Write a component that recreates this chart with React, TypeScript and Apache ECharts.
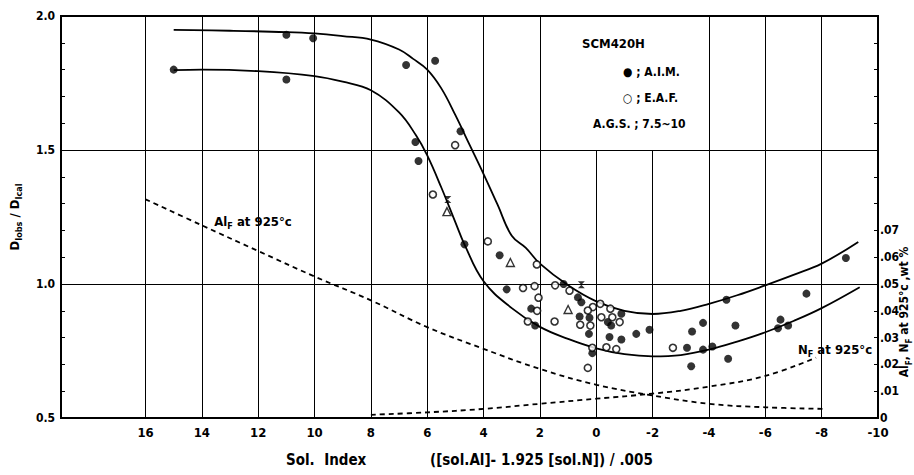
import React, { useEffect, useRef } from 'react';
import * as echarts from 'echarts';

// ---- data ----
const xGridValues = [16, 14, 12, 10, 8, 6, 4, 2, 0, -2, -4, -6, -8];
const legendBoxX = [2, -4];
const legendBoxY = [1.5, 2.0];

const upperCurve: number[][] = [
  [15, 1.948], [13, 1.945], [11, 1.94], [10, 1.935], [9, 1.925], [8, 1.912],
  [7, 1.875], [6.5, 1.84], [6, 1.8], [5.5, 1.73], [5, 1.63], [4.5, 1.52],
  [4, 1.41], [3.5, 1.295], [3, 1.18], [2.5, 1.135], [2, 1.076], [1, 0.995],
  [0, 0.935], [-1, 0.9], [-2, 0.888], [-3, 0.9], [-4, 0.926], [-5, 0.958],
  [-6, 0.995], [-7, 1.034], [-8, 1.076], [-9.3, 1.157],
];

const lowerCurve: number[][] = [
  [15, 1.798], [14, 1.8], [12, 1.794], [10, 1.776], [9, 1.755], [8, 1.723],
  [7, 1.64], [6.4, 1.555], [6, 1.48], [5.5, 1.36], [5, 1.23], [4.68, 1.148],
  [4, 1.01], [3, 0.91], [2, 0.84], [1, 0.795], [0, 0.76], [-1, 0.738],
  [-2, 0.73], [-3, 0.735], [-4, 0.755], [-5, 0.785], [-6, 0.82], [-7, 0.862],
  [-8, 0.91], [-9.35, 0.988],
];

// right axis units (wt %)
const alFCurve: number[][] = [
  [16, 0.0816], [14, 0.0719], [12, 0.0623], [10, 0.0528], [8, 0.0439],
  [6, 0.0339], [4, 0.0258], [2, 0.0183], [0, 0.0124], [-2, 0.0084],
  [-4, 0.0053], [-6, 0.004], [-8.1, 0.0034],
];

const nFCurve: number[][] = [
  [8, 0.0012], [6, 0.0021], [4, 0.0034], [2, 0.0053], [0, 0.0072],
  [-2, 0.0091], [-4, 0.0117], [-6, 0.0157], [-7.8, 0.0225],
];

const aimPoints: number[][] = [
  [15, 1.8], [11, 1.93], [11, 1.763], [10.05, 1.917], [6.75, 1.817], [5.72, 1.833],
  [4.82, 1.57], [6.42, 1.53], [6.31, 1.459], [4.68, 1.148], [3.43, 1.107], [3.18, 0.98],
  [1.16, 1.0], [2.31, 0.908], [2.17, 0.845], [0.65, 0.95], [0.53, 0.932], [0.59, 0.879],
  [0.24, 0.874], [-0.89, 0.889], [-0.41, 0.858], [-0.53, 0.845], [0.26, 0.814],
  [-0.47, 0.802], [-0.89, 0.793], [-1.42, 0.814], [-1.89, 0.829], [0.14, 0.742],
  [-4.62, 0.941], [-3.79, 0.855], [-3.4, 0.823], [-4.94, 0.845], [-3.22, 0.762],
  [-3.79, 0.755], [-4.12, 0.767], [-3.37, 0.693], [-4.68, 0.721], [-8.86, 1.097],
  [-7.46, 0.964], [-6.54, 0.867], [-6.45, 0.835], [-6.81, 0.845],
];

const eafPoints: number[][] = [
  [5.01, 1.518], [5.8, 1.334], [3.85, 1.159], [2.11, 1.073], [2.6, 0.985], [2.19, 0.992],
  [2.05, 0.949], [2.1, 0.9], [2.43, 0.86], [1.48, 0.86], [1.46, 0.995], [0.95, 0.975],
  [0.12, 0.914], [-0.14, 0.926], [0.3, 0.901], [-0.18, 0.876], [-0.5, 0.908],
  [-0.57, 0.876], [-0.83, 0.858], [0.57, 0.848], [0.21, 0.845], [0.14, 0.762],
  [-0.36, 0.764], [-0.71, 0.757], [0.3, 0.687], [-2.72, 0.762],
];

const trianglePoints: number[][] = [[5.3, 1.27], [3.05, 1.08], [1.0, 0.905]];
const crossPoints: number[][] = [[5.27, 1.315], [0.53, 0.997]];

const FONT = "'DejaVu Sans Condensed', 'Liberation Sans Narrow', 'Liberation Sans', Arial, sans-serif";

export default function App() {
  const ref = useRef<HTMLDivElement>(null);

  useEffect(() => {
    document.body.style.margin = '0';
    const chart = echarts.init(ref.current!, null, { renderer: 'svg' });

    const gridLineData = xGridValues.map((x) => {
      const inBox = x < legendBoxX[0] && x > legendBoxX[1];
      return [
        { coord: [x, 0.5] },
        { coord: [x, inBox ? legendBoxY[0] : legendBoxY[1]] },
      ];
    });

    const txt = (text: string, x: number, y: number, size: number, align = 'left', extra: any = {}) => ({
      type: 'text',
      x,
      y,
      silent: true,
      style: {
        text,
        fill: '#000',
        font: `bold ${size}px ${FONT}`,
        textAlign: align,
        textVerticalAlign: 'middle',
        ...extra,
      },
    });

    const richBase = (big: number, small: number) => ({
      a: { fontSize: big, fontWeight: 'bold', fontFamily: FONT, lineHeight: big + 6, verticalAlign: 'middle', color: '#000' },
      b: { fontSize: small, fontWeight: 'bold', fontFamily: FONT, lineHeight: big + 6, verticalAlign: 'bottom', color: '#000' },
    });

    const option: any = {
      animation: false,
      backgroundColor: '#fff',
      grid: {
        left: 61, right: 36, top: 16, bottom: 57,
        show: true, borderColor: '#000', borderWidth: 2,
      },
      xAxis: {
        type: 'value',
        inverse: true,
        min: -10,
        max: 19,
        interval: 2,
        axisLine: { show: false, onZero: false },
        axisTick: { show: false },
        splitLine: { show: false },
        axisLabel: {
          margin: 8,
          color: '#000',
          fontSize: 13,
          fontWeight: 'bold',
          fontFamily: FONT,
          formatter: (v: number) => (v > 16 ? '' : String(v)),
        },
      },
      yAxis: [
        {
          type: 'value',
          position: 'left',
          min: 0.5,
          max: 2.0,
          interval: 0.5,
          axisLine: { show: false, onZero: false },
          axisTick: { show: true, inside: true, length: 4, lineStyle: { color: '#000' } },
          minorTick: { show: true, splitNumber: 5, length: 4, lineStyle: { color: '#000', width: 1 } },
          splitLine: { show: true, lineStyle: { color: '#000', width: 1 } },
          axisLabel: {
            margin: 6,
            color: '#000',
            fontSize: 12,
            fontWeight: 'bold',
            fontFamily: FONT,
            formatter: (v: number) => v.toFixed(1),
          },
        },
        {
          type: 'value',
          position: 'right',
          min: 0,
          max: 0.15,
          interval: 0.01,
          axisLine: { show: false, onZero: false },
          axisTick: { show: true, inside: true, length: 4, lineStyle: { color: '#000' } },
          splitLine: { show: false },
          axisLabel: {
            margin: 2,
            color: '#000',
            fontSize: 12,
            fontWeight: 'bold',
            fontFamily: FONT,
            formatter: (v: number) => {
              const n = Math.round(v * 100);
              if (n === 0) return '0';
              if (n > 7) return '';
              return '.0' + n;
            },
          },
        },
      ],
      series: [
        {
          type: 'line',
          name: 'upper',
          data: upperCurve,
          smooth: 0.4,
          symbol: 'none',
          z: 3,
          lineStyle: { color: '#000', width: 1.8 },
          markLine: {
            silent: true,
            symbol: ['none', 'none'],
            label: { show: false },
            lineStyle: { color: '#000', width: 1, type: 'solid' },
            data: gridLineData,
          },
        },
        {
          type: 'line',
          name: 'lower',
          data: lowerCurve,
          smooth: 0.4,
          symbol: 'none',
          z: 3,
          lineStyle: { color: '#000', width: 1.8 },
        },
        {
          type: 'line',
          name: 'AlF',
          yAxisIndex: 1,
          data: alFCurve,
          smooth: 0.4,
          symbol: 'none',
          z: 3,
          lineStyle: { color: '#000', width: 1.8, type: [5, 4] },
        },
        {
          type: 'line',
          name: 'NF',
          yAxisIndex: 1,
          data: nFCurve,
          smooth: 0.4,
          symbol: 'none',
          z: 3,
          lineStyle: { color: '#000', width: 1.8, type: [5, 4] },
        },
        {
          type: 'scatter',
          name: 'A.I.M.',
          data: aimPoints,
          symbol: 'circle',
          symbolSize: 8,
          z: 5,
          itemStyle: { color: '#000' },
        },
        {
          type: 'scatter',
          name: 'E.A.F.',
          data: eafPoints,
          symbol: 'circle',
          symbolSize: 7,
          z: 5,
          itemStyle: { color: '#fff', borderColor: '#000', borderWidth: 1.6 },
        },
        {
          type: 'scatter',
          name: 'triangle',
          data: trianglePoints,
          symbol: 'triangle',
          symbolSize: 8,
          z: 5,
          itemStyle: { color: '#fff', borderColor: '#000', borderWidth: 1.4 },
        },
        {
          type: 'scatter',
          name: 'cross',
          data: crossPoints,
          symbol: 'path://M0,0L10,0L0,10L10,10Z',
          symbolSize: 7,
          z: 5,
          itemStyle: { color: '#000' },
        },
      ],
      graphic: [
        txt('SCM420H', 582, 43, 13),
        txt('● ; A.I.M.', 623, 72, 12),
        txt('○ ; E.A.F.', 623, 98, 12),
        txt('A.G.S. ; 7.5~10', 593, 124, 12),
        txt('Sol.  Index', 286, 460, 15),
        txt('([sol.Al]- 1.925 [sol.N]) / .005', 430, 460, 15),
        {
          type: 'text', x: 253, y: 221, silent: true,
          style: {
            text: '{a|Al}{b|F}{a| at 925°c}', rich: richBase(13, 9),
            textAlign: 'center', textVerticalAlign: 'middle',
          },
        },
        {
          type: 'text', x: 835, y: 349, silent: true,
          style: {
            text: '{a|N}{b|F}{a| at 925°c}', rich: richBase(13, 9),
            textAlign: 'center', textVerticalAlign: 'middle',
          },
        },
        {
          type: 'text', x: 14, y: 217, rotation: Math.PI / 2, silent: true,
          style: {
            text: '{a|D}{b|Iobs}{a| / D}{b|Ical}', rich: richBase(13, 9),
            textAlign: 'center', textVerticalAlign: 'middle',
          },
        },
        {
          type: 'text', x: 904, y: 312, rotation: Math.PI / 2, silent: true,
          style: {
            text: '{a|Al}{b|F}{a|, N}{b|F}{a| at 925°c ,wt %}', rich: richBase(12, 8),
            textAlign: 'center', textVerticalAlign: 'middle',
          },
        },
      ],
    };

    chart.setOption(option);
    return () => chart.dispose();
  }, []);

  return <div ref={ref} style={{ width: 914, height: 475 }} />;
}
